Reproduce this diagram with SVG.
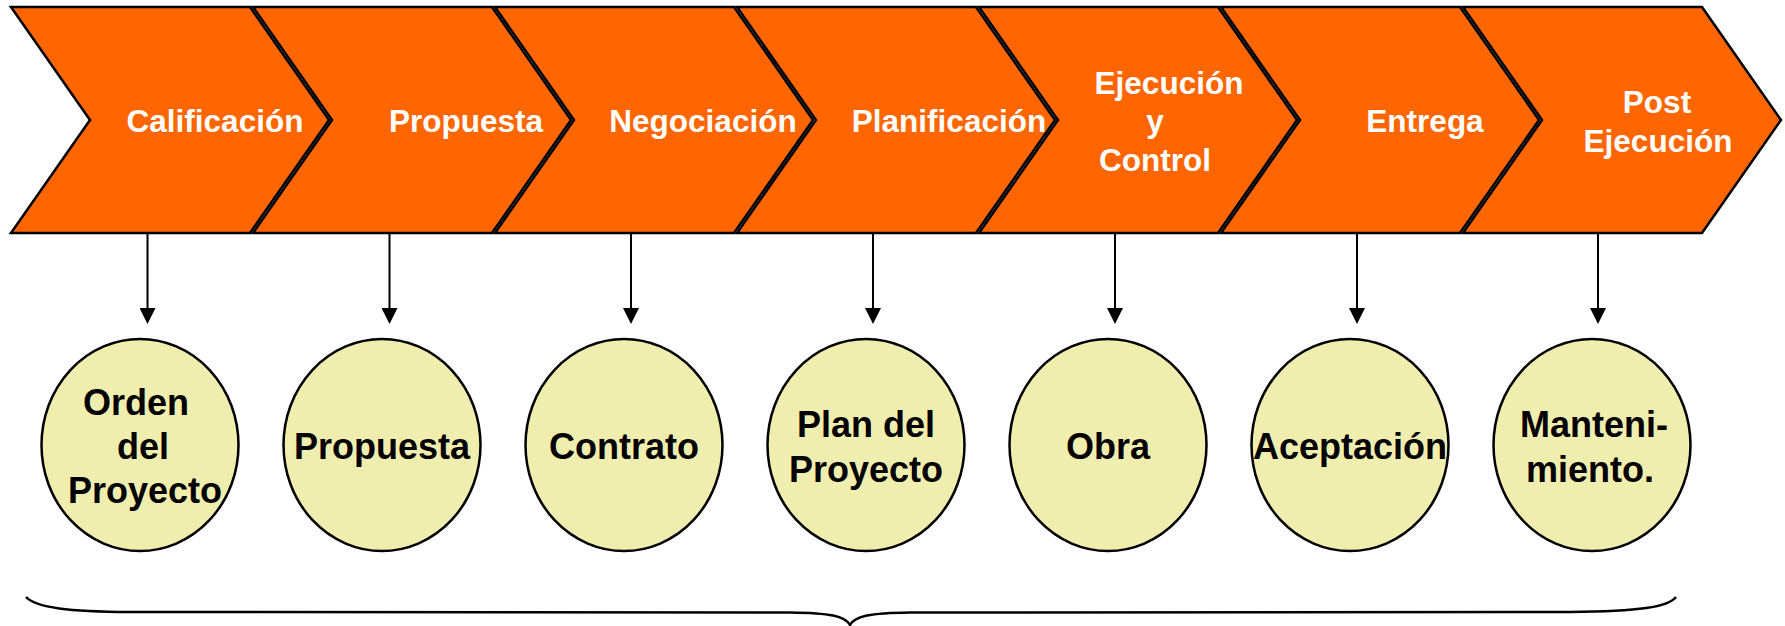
<svg xmlns="http://www.w3.org/2000/svg" width="1785" height="626" viewBox="0 0 1785 626">
<defs>
<style>
.chev{fill:#FF6600;stroke:#000;stroke-width:2.5;stroke-linejoin:miter}
.ct{font-family:"Liberation Sans",Arial,sans-serif;font-weight:bold;font-size:31.5px;fill:#fff;text-anchor:middle}
.circ{fill:#F0EEAE;stroke:#000;stroke-width:2.5}
.et{font-family:"Liberation Sans",Arial,sans-serif;font-weight:bold;font-size:36px;fill:#000;text-anchor:middle}
.conn{stroke:#000;stroke-width:2;fill:none}
.brace{stroke:#000;stroke-width:2.5;fill:none}
</style>
<marker id="arr" viewBox="0 0 16 16" markerWidth="16" markerHeight="16" refX="8" refY="8" orient="auto" markerUnits="userSpaceOnUse">
<path d="M0,0 L16,8 L0,16 z" fill="#000"/>
</marker>
</defs>
<rect width="1785" height="626" fill="#fff"/>

<g id="chevron-calificacion">
<polygon class="chev" points="11,7 250,7 329,120 250,233 11,233 90,120"/>
<text class="ct" x="215" y="132">Calificación</text>
</g>
<g id="chevron-propuesta">
<polygon class="chev" points="253,7 492,7 571,120 492,233 253,233 332,120"/>
<text class="ct" x="466" y="132">Propuesta</text>
</g>
<g id="chevron-negociacion">
<polygon class="chev" points="495,7 734,7 813,120 734,233 495,233 574,120"/>
<text class="ct" x="703" y="132">Negociación</text>
</g>
<g id="chevron-planificacion">
<polygon class="chev" points="737,7 976,7 1055,120 976,233 737,233 816,120"/>
<text class="ct" x="949" y="132">Planificación</text>
</g>
<g id="chevron-ejecucion">
<polygon class="chev" points="979,7 1218,7 1297,120 1218,233 979,233 1058,120"/>
<text class="ct" x="1169" y="94">Ejecución</text>
<text class="ct" x="1155" y="132">y</text>
<text class="ct" x="1155" y="171">Control</text>
</g>
<g id="chevron-entrega">
<polygon class="chev" points="1221,7 1460,7 1539,120 1460,233 1221,233 1300,120"/>
<text class="ct" x="1425" y="132">Entrega</text>
</g>
<g id="chevron-post">
<polygon class="chev" points="1463,7 1702,7 1781,120 1702,233 1463,233 1542,120"/>
<text class="ct" x="1657" y="113">Post</text>
<text class="ct" x="1658" y="152">Ejecución</text>
</g>

<g id="connectors">
<line class="conn" x1="147.5" y1="234" x2="147.5" y2="316" marker-end="url(#arr)"/>
<line class="conn" x1="389.5" y1="234" x2="389.5" y2="316" marker-end="url(#arr)"/>
<line class="conn" x1="631" y1="234" x2="631" y2="316" marker-end="url(#arr)"/>
<line class="conn" x1="873" y1="234" x2="873" y2="316" marker-end="url(#arr)"/>
<line class="conn" x1="1115" y1="234" x2="1115" y2="316" marker-end="url(#arr)"/>
<line class="conn" x1="1357" y1="234" x2="1357" y2="316" marker-end="url(#arr)"/>
<line class="conn" x1="1598" y1="234" x2="1598" y2="316" marker-end="url(#arr)"/>
</g>

<g id="node-orden">
<ellipse class="circ" cx="140" cy="445" rx="98.5" ry="106"/>
<text class="et" x="136" y="415">Orden</text>
<text class="et" x="143" y="459">del</text>
<text class="et" x="145" y="503">Proyecto</text>
</g>
<g id="node-propuesta">
<ellipse class="circ" cx="382" cy="445" rx="98.5" ry="106"/>
<text class="et" x="382" y="459">Propuesta</text>
</g>
<g id="node-contrato">
<ellipse class="circ" cx="624" cy="445" rx="98.5" ry="106"/>
<text class="et" x="624" y="459">Contrato</text>
</g>
<g id="node-plan">
<ellipse class="circ" cx="866" cy="445" rx="98.5" ry="106"/>
<text class="et" x="866" y="437">Plan del</text>
<text class="et" x="866" y="482">Proyecto</text>
</g>
<g id="node-obra">
<ellipse class="circ" cx="1108" cy="445" rx="98.5" ry="106"/>
<text class="et" x="1108" y="459">Obra</text>
</g>
<g id="node-aceptacion">
<ellipse class="circ" cx="1350" cy="445" rx="98.5" ry="106"/>
<text class="et" x="1350" y="459">Aceptación</text>
</g>
<g id="node-mantenimiento">
<ellipse class="circ" cx="1592" cy="445" rx="98.5" ry="106"/>
<text class="et" x="1594" y="437">Manteni-</text>
<text class="et" x="1590" y="482">miento.</text>
</g>

<g id="brace">
<path class="brace" d="M26,597 C36,608 70,611.5 130,612 L790,612.5 C830,613 845,616 850,625 C855,616 870,613 910,612.5 L1570,612 C1640,611.5 1668,607 1676,597"/>
</g>
</svg>
